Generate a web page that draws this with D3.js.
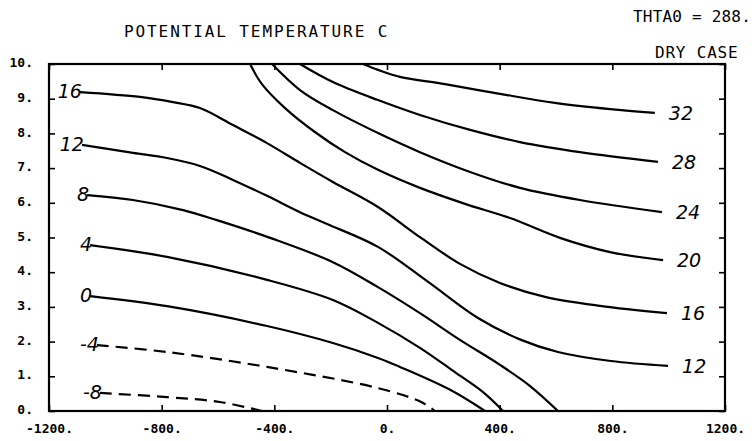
<!DOCTYPE html>
<html>
<head>
<meta charset="utf-8">
<script src="https://cdn.jsdelivr.net/npm/d3@7"></script>
<style>
  body { margin: 0; background: #fff; }
  svg { display: block; }
  .tick text { font-family: "DejaVu Sans Mono", monospace; font-weight: bold; font-size: 13px; fill: #000; }
  .plotter { font-family: "DejaVu Sans Mono", monospace; font-size: 16px; fill: #000; }
  .hand { font-family: "DejaVu Sans", sans-serif; font-size: 19px; font-style: oblique; fill: #000; }
</style>
</head>
<body>
<div id="container"></div>
<script>
const margin = {top: 64, right: 31, bottom: 30, left: 49};
const w = 756, h = 441;

// axis ticks
const xTicks = [-1200, -800, -400, 0, 400, 800, 1200];
const yTicks = [0, 1, 2, 3, 4, 5, 6, 7, 8, 9, 10];

// contour lines, [x, height]
const c32 = [[-85, 10], [-32, 9.83], [46, 9.63], [206, 9.42], [401, 9.14], [596, 8.88], [792, 8.70], [951, 8.59]];
const c28 = [[-309, 10], [-192, 9.48], [-32, 8.96], [117, 8.53], [295, 8.10], [472, 7.75], [685, 7.46], [962, 7.18]];
const c24 = [[-408, 10], [-309, 9.25], [-192, 8.67], [-32, 8.01], [117, 7.46], [295, 6.89], [472, 6.43], [685, 6.08], [976, 5.73]];
const c20 = [[-486, 10], [-444, 9.42], [-362, 8.73], [-256, 8.04], [-149, 7.46], [-32, 6.95], [117, 6.43], [277, 5.97], [437, 5.56], [614, 4.99], [792, 4.58], [980, 4.35]];
const c16 = [[-1090, 9.19], [-877, 9.05], [-760, 8.90], [-664, 8.73], [-547, 8.24], [-426, 7.72], [-309, 7.15], [-192, 6.60], [-32, 5.88], [117, 5.01], [259, 4.24], [401, 3.69], [561, 3.29], [756, 3.03], [994, 2.82]];
const c12 = [[-1083, 7.67], [-902, 7.44], [-781, 7.29], [-664, 7.06], [-547, 6.66], [-426, 6.20], [-309, 5.73], [-213, 5.39], [-32, 4.73], [146, 3.72], [323, 2.68], [476, 2.05], [607, 1.70], [795, 1.44], [998, 1.30]];
const c8 = [[-1065, 6.22], [-902, 6.08], [-724, 5.79], [-604, 5.50], [-415, 4.99], [-192, 4.29], [-32, 3.57], [117, 2.82], [259, 2.05], [401, 1.33], [508, 0.72], [607, 0]];
const c4 = [[-1054, 4.78], [-781, 4.44], [-426, 3.78], [-192, 3.20], [-32, 2.54], [117, 1.82], [241, 1.12], [340, 0.55], [412, 0]];
const c0 = [[-1054, 3.31], [-781, 3.02], [-426, 2.45], [-192, 1.96], [-32, 1.53], [46, 1.27], [224, 0.61], [348, 0]];
const cm4 = [[-1030, 1.90], [-781, 1.70], [-426, 1.27], [-32, 0.66], [121, 0.26], [170, 0]];
const cm8 = [[-1019, 0.52], [-781, 0.40], [-593, 0.26], [-444, 0]];

const contours = [
  {level: 32, pts: c32, left: false, right: true},
  {level: 28, pts: c28, left: false, right: true},
  {level: 24, pts: c24, left: false, right: true},
  {level: 20, pts: c20, left: false, right: true},
  {level: 16, pts: c16, left: true, right: true},
  {level: 12, pts: c12, left: true, right: true},
  {level: 8, pts: c8, left: true, right: false},
  {level: 4, pts: c4, left: true, right: false},
  {level: 0, pts: c0, left: true, right: false},
  {level: -4, pts: cm4, left: true, right: false},
  {level: -8, pts: cm8, left: true, right: false}
];

const chart = d3.select('#container')
                .append('svg')
                .attr('width', w)
                .attr('height', h);

const x = d3.scaleLinear()
            .domain([-1200, 1200])
            .range([margin.left, w - margin.right]);
const y = d3.scaleLinear()
            .domain([0, 10])
            .range([h - margin.bottom, margin.top]);

// AXES - inward ticks on all four sides
chart.append('g')
     .attr('class', 'x-axis')
     .attr('transform', `translate(0,${y(0)})`)
     .call(d3.axisBottom(x).tickValues(xTicks).tickSizeInner(-6).tickSizeOuter(0)
             .tickPadding(13).tickFormat(d => d + '.'));
chart.append('g')
     .attr('transform', `translate(0,${y(10)})`)
     .call(d3.axisTop(x).tickValues(xTicks).tickSizeInner(-6).tickSizeOuter(0).tickFormat(''));
chart.append('g')
     .attr('class', 'y-axis')
     .attr('transform', `translate(${x(-1200)},0)`)
     .call(d3.axisLeft(y).tickValues(yTicks).tickSizeInner(-6).tickSizeOuter(0)
             .tickPadding(16).tickFormat(d => d + '.'));
chart.append('g')
     .attr('transform', `translate(${x(1200)},0)`)
     .call(d3.axisRight(y).tickValues(yTicks).tickSizeInner(-6).tickSizeOuter(0).tickFormat(''));

chart.selectAll('.domain').remove();
chart.selectAll('.tick line').attr('stroke', '#000').attr('stroke-width', 1.6);
chart.selectAll('.y-axis .tick text').attr('dy', '0.2em');

// frame
chart.append('rect')
     .attr('x', x(-1200))
     .attr('y', y(10))
     .attr('width', x(1200) - x(-1200))
     .attr('height', y(0) - y(10))
     .attr('fill', 'none')
     .attr('stroke', '#000')
     .attr('stroke-width', 2.2);

// CONTOURS
const line = d3.line()
               .x(d => x(d[0]))
               .y(d => y(d[1]))
               .curve(d3.curveCatmullRom.alpha(0.5));

chart.append('g')
     .selectAll('path')
     .data(contours).enter()
     .append('path')
     .attr('d', d => line(d.pts))
     .attr('fill', 'none')
     .attr('stroke', '#000')
     .attr('stroke-width', 2.2)
     .attr('stroke-dasharray', d => d.level < 0 ? '12,7' : null);

// hand written labels
chart.append('g')
     .selectAll('text')
     .data(contours.filter(d => d.left)).enter()
     .append('text')
     .attr('class', 'hand')
     .attr('x', d => x(d.pts[0][0]) + 2)
     .attr('y', d => y(d.pts[0][1]) + 6)
     .attr('text-anchor', 'end')
     .text(d => d.level);

chart.append('g')
     .selectAll('text')
     .data(contours.filter(d => d.right)).enter()
     .append('text')
     .attr('class', 'hand')
     .attr('x', d => x(d.pts[d.pts.length - 1][0]) + 14)
     .attr('y', d => y(d.pts[d.pts.length - 1][1]) + 7)
     .text(d => d.level);

// TITLES
chart.append('text')
     .attr('class', 'plotter')
     .attr('x', 124)
     .attr('y', 37)
     .style('letter-spacing', '1.9px')
     .text('POTENTIAL TEMPERATURE C');
chart.append('text')
     .attr('class', 'plotter')
     .attr('x', 633)
     .attr('y', 22)
     .style('letter-spacing', '0.2px')
     .text('THTA0 = 288.');
chart.append('text')
     .attr('class', 'plotter')
     .attr('x', 655)
     .attr('y', 58)
     .style('letter-spacing', '0.8px')
     .text('DRY CASE');
</script>
</body>
</html>
